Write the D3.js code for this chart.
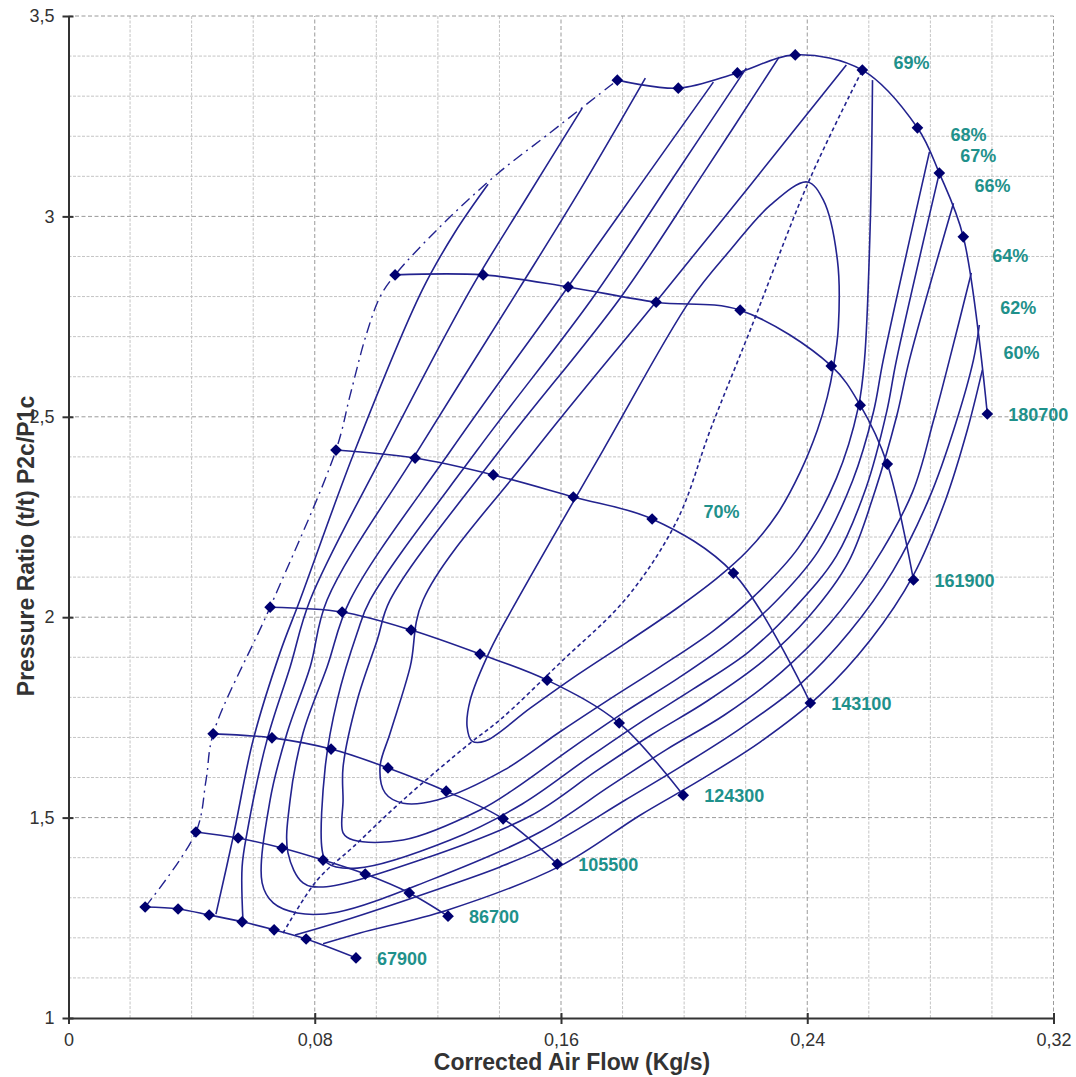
<!DOCTYPE html>
<html>
<head>
<meta charset="utf-8">
<script src="https://cdn.jsdelivr.net/npm/d3@7"></script>
<style>
body { margin: 0; background: #fff; }
text { font-family: Arial, "Liberation Sans", sans-serif; }
</style>
</head>
<body>
<svg id="chart" width="1076" height="1077"></svg>
<script>
// axis ticks and grid
const X_TICKS = [0, 0.08, 0.16, 0.24, 0.32];
const Y_TICKS = [1, 1.5, 2, 2.5, 3, 3.5];
const X_GRID = [0.02, 0.04, 0.06, 0.10, 0.12, 0.14, 0.18, 0.20, 0.22, 0.26, 0.28, 0.30];
const Y_GRID = [1.1, 1.2, 1.3, 1.4, 1.6, 1.7, 1.8, 1.9, 2.1, 2.2, 2.3, 2.4, 2.6, 2.7, 2.8, 2.9, 3.1, 3.2, 3.3, 3.4];

// speed lines [flow kg/s, pressure ratio]
const SPEEDS = ["67900", "86700", "105500", "124300", "143100", "161900", "180700"];
const N67900 = [[0.0249,1.277],[0.0356,1.272],[0.0457,1.257],[0.0564,1.240],[0.0668,1.220],[0.0772,1.197],[0.0934,1.150]];
const N86700 = [[0.0414,1.464],[0.0551,1.449],[0.0694,1.424],[0.0827,1.394],[0.0964,1.359],[0.1107,1.312],[0.1233,1.254]];
const N105500 = [[0.0470,1.709],[0.0661,1.699],[0.0853,1.671],[0.1038,1.624],[0.1227,1.566],[0.1412,1.497],[0.1588,1.384]];
const N124300 = [[0.0655,2.025],[0.0889,2.013],[0.1113,1.968],[0.1337,1.908],[0.1555,1.843],[0.1789,1.736],[0.1997,1.556]];
const N143100 = [[0.0869,2.417],[0.1126,2.397],[0.1380,2.355],[0.1640,2.300],[0.1896,2.245],[0.2160,2.110],[0.2410,1.786]];
const N161900 = [[0.1061,2.854],[0.1347,2.854],[0.1623,2.824],[0.1909,2.786],[0.2182,2.766],[0.2478,2.627],[0.2572,2.529],[0.2660,2.382],[0.2745,2.093]];
const N180700 = [[0.1783,3.340],[0.1981,3.320],[0.2173,3.358],[0.2361,3.403],[0.2579,3.365],[0.2758,3.221],[0.2829,3.108],[0.2907,2.949],[0.2985,2.507]];

// surge line and peak efficiency line
const SURGE = [[0.0249,1.277],[0.0414,1.464],[0.0447,1.594],[0.0470,1.709],[0.0655,2.025],[0.0869,2.417],[0.0915,2.554],[0.0967,2.704],[0.1012,2.799],[0.1061,2.854],[0.1207,2.974],[0.1393,3.106],[0.1555,3.203],[0.1783,3.340]];
const PEAK = [[0.0697,1.212],[0.0808,1.344],[0.0925,1.427],[0.1087,1.544],[0.1305,1.686],[0.1402,1.744],[0.1597,1.886],[0.1815,2.050],[0.1978,2.243],[0.2085,2.467],[0.2215,2.717],[0.2407,3.091],[0.2579,3.365]];

// efficiency contours
const E60_L = [[0.0479,1.259],[0.0535,1.452],[0.0600,1.694],[0.0687,1.911],[0.0752,2.043],[0.0931,2.417],[0.1149,2.816],[0.1256,2.961],[0.1363,3.080]];
const E60_R = [[0.0827,1.185],[0.0947,1.212],[0.1230,1.269],[0.1597,1.379],[0.1857,1.506],[0.2053,1.594],[0.2248,1.689],[0.2442,1.806],[0.2605,1.943],[0.2745,2.105],[0.2849,2.292],[0.2920,2.467],[0.2969,2.617]];
const E62_L = [[0.0567,1.240],[0.0564,1.377],[0.0580,1.462],[0.0645,1.694],[0.0720,1.876],[0.0785,2.043],[0.1029,2.417],[0.1305,2.816],[0.1484,3.041],[0.1669,3.270]];
const E62_R = [[0.0736,1.207],[0.0882,1.240],[0.1240,1.332],[0.1402,1.377],[0.1565,1.432],[0.1809,1.544],[0.1997,1.631],[0.2186,1.724],[0.2377,1.833],[0.2537,1.963],[0.2678,2.115],[0.2799,2.302],[0.2881,2.480],[0.2940,2.642],[0.2959,2.729]];
const E64 = [[0.1874,3.345],[0.1662,3.066],[0.1461,2.816],[0.1136,2.417],[0.0840,2.043],[0.0785,1.876],[0.0710,1.711],[0.0655,1.544],[0.0629,1.337],[0.0665,1.287],[0.0743,1.262],
             [0.0873,1.264],[0.1175,1.344],[0.1532,1.464],[0.1760,1.579],[0.1945,1.671],[0.2131,1.756],[0.2316,1.863],[0.2472,1.983],[0.2612,2.128],[0.2742,2.312],[0.2810,2.490],[0.2862,2.642],[0.2933,2.859]];
const E66 = [[0.2095,3.335],[0.1857,3.078],[0.1604,2.804],[0.1243,2.417],[0.0915,2.043],[0.0840,1.876],[0.0762,1.711],[0.0720,1.544],[0.0713,1.412],[0.0762,1.337],
             [0.0827,1.327],[0.1142,1.394],[0.1500,1.504],[0.1714,1.616],[0.1893,1.706],[0.2075,1.791],[0.2257,1.891],[0.2407,2.003],[0.2534,2.138],[0.2621,2.317],[0.2690,2.500],[0.2732,2.642],[0.2875,3.033]];
const E67 = [[0.2202,3.370],[0.1955,3.086],[0.1705,2.799],[0.1328,2.417],[0.0980,2.043],[0.0938,1.961],[0.0873,1.793],[0.0834,1.626],[0.0824,1.419],[0.0840,1.387],
             [0.0938,1.374],[0.1240,1.444],[0.1474,1.534],[0.1679,1.644],[0.1851,1.734],[0.2030,1.821],[0.2209,1.913],[0.2355,2.020],[0.2495,2.153],[0.2592,2.325],[0.2657,2.509],[0.2690,2.642],[0.2829,3.108]];
const E68 = [[0.2309,3.398],[0.2053,3.096],[0.1792,2.796],[0.1402,2.417],[0.1045,2.043],[0.1003,1.943],[0.0938,1.793],[0.0892,1.626],[0.0892,1.544],[0.0892,1.462],[0.0925,1.444],
             [0.1087,1.444],[0.1337,1.519],[0.1448,1.571],[0.1636,1.674],[0.1806,1.763],[0.1981,1.848],[0.2153,1.941],[0.2296,2.038],[0.2436,2.165],[0.2547,2.340],[0.2615,2.512],[0.2647,2.642],[0.2797,3.161]];
const E69 = [[0.2527,3.378],[0.2215,3.078],[0.1913,2.791],[0.1516,2.417],[0.1152,2.043],[0.1110,1.876],[0.1045,1.711],[0.1012,1.626],[0.1029,1.561],[0.1087,1.536],
             [0.1198,1.544],[0.1416,1.619],[0.1591,1.711],[0.1753,1.793],[0.1922,1.876],[0.2095,1.966],[0.2231,2.055],[0.2371,2.173],[0.2495,2.347],[0.2566,2.524],[0.2586,2.642],[0.2605,2.991],[0.2612,3.340]];
const E70 = [[0.1295,1.726],[0.1305,1.793],[0.1370,1.918],[0.1458,2.043],[0.1737,2.417],[0.2020,2.791],[0.2150,2.916],[0.2280,3.028],[0.2400,3.086],
             [0.2452,3.041],[0.2498,2.891],[0.2501,2.724],[0.2485,2.624],[0.2465,2.549],[0.2433,2.467],[0.2377,2.362],[0.2303,2.258],[0.2205,2.165],[0.2108,2.098],
             [0.1978,2.023],[0.1815,1.938],[0.1653,1.856],[0.1500,1.773],[0.1354,1.691],[0.1311,1.691]];
const EFF_LABELS = ["60%", "62%", "64%", "66%", "67%", "68%", "69%"];
const LABEL_70 = [0.2063, 2.248];

const LINE_COLOR = "#23238f";
const MARKER_COLOR = "#000070";
const LABEL_COLOR = "#1f918b";
const AXIS_COLOR = "#333";

const svg = d3.select("#chart");
const x = d3.scaleLinear().domain([0, 0.32]).range([68.5, 1053.5]);
const y = d3.scaleLinear().domain([1, 3.5]).range([1018, 16]);
const fmt = (d) => String(d).replace(".", ",");

svg.append("rect").attr("width", 1076).attr("height", 1077).attr("fill", "#fff");

// Grid:
const grid = svg.append("g");
grid.selectAll(".gx").data(X_GRID).enter().append("line")
    .attr("x1", (d) => x(d)).attr("x2", (d) => x(d))
    .attr("y1", y(1)).attr("y2", y(3.5))
    .attr("stroke", "#c4c4c4").attr("stroke-dasharray", "3,1.5");
grid.selectAll(".gy").data(Y_GRID).enter().append("line")
    .attr("x1", x(0)).attr("x2", x(0.32))
    .attr("y1", (d) => y(d)).attr("y2", (d) => y(d))
    .attr("stroke", "#c4c4c4").attr("stroke-dasharray", "3,1.5");
grid.selectAll(".mx").data(X_TICKS.slice(1)).enter().append("line")
    .attr("x1", (d) => x(d)).attr("x2", (d) => x(d))
    .attr("y1", y(1)).attr("y2", y(3.5))
    .attr("stroke", "#9a9a9a").attr("stroke-dasharray", "4,2.5");
grid.selectAll(".my").data(Y_TICKS.slice(1)).enter().append("line")
    .attr("x1", x(0)).attr("x2", x(0.32))
    .attr("y1", (d) => y(d)).attr("y2", (d) => y(d))
    .attr("stroke", "#9a9a9a").attr("stroke-dasharray", "4,2.5");

const line = d3.line().x((d) => x(d[0])).y((d) => y(d[1])).curve(d3.curveCatmullRom.alpha(0.5));
const closed = d3.line().x((d) => x(d[0])).y((d) => y(d[1])).curve(d3.curveCatmullRomClosed.alpha(0.5));

// Efficiency contours:
const contours = [E60_L, E60_R, E62_L, E62_R, E64, E66, E67, E68, E69];
svg.append("g").selectAll("path").data(contours).enter().append("path")
    .attr("d", line).attr("fill", "none")
    .attr("stroke", LINE_COLOR).attr("stroke-width", 1.6);
svg.append("path").attr("d", closed(E70)).attr("fill", "none")
    .attr("stroke", LINE_COLOR).attr("stroke-width", 1.6);

// Peak line and surge line:
svg.append("path").attr("d", line(PEAK)).attr("fill", "none")
    .attr("stroke", LINE_COLOR).attr("stroke-width", 1.6).attr("stroke-dasharray", "4,3");
svg.append("path").attr("d", line(SURGE)).attr("fill", "none")
    .attr("stroke", LINE_COLOR).attr("stroke-width", 1.4).attr("stroke-dasharray", "11,5,2,5");

// Speed lines:
const speedData = [N67900, N86700, N105500, N124300, N143100, N161900, N180700];
const sp = svg.append("g");
sp.selectAll("path").data(speedData).enter().append("path")
    .attr("d", line).attr("fill", "none")
    .attr("stroke", LINE_COLOR).attr("stroke-width", 1.6);
const diamond = d3.symbol(d3.symbolSquare, 68);
speedData.forEach((pts) => {
    sp.append("g").selectAll("path").data(pts).enter().append("path")
        .attr("d", diamond)
        .attr("transform", (d) => "translate(" + x(d[0]) + "," + y(d[1]) + ") rotate(45)")
        .attr("fill", MARKER_COLOR);
});

// Labels:
const labels = svg.append("g").attr("font-weight", "bold").attr("font-size", 18).attr("fill", LABEL_COLOR);
speedData.forEach((pts, i) => {
    const last = pts[pts.length - 1];
    labels.append("text").attr("x", x(last[0]) + 21).attr("y", y(last[1]) + 7).text(SPEEDS[i]);
});
const effEnds = [E60_R, E62_R, E64, E66, E67, E68, E69];
effEnds.forEach((pts, i) => {
    const last = pts[pts.length - 1];
    labels.append("text").attr("x", x(last[0]) + 21).attr("y", y(last[1]) - 11).text(EFF_LABELS[i]);
});
labels.append("text").attr("x", x(LABEL_70[0])).attr("y", y(LABEL_70[1])).text("70%");

// Axes:
const xAxis = d3.axisBottom(x).tickValues(X_TICKS).tickFormat(fmt).tickSizeInner(6).tickSizeOuter(0).tickPadding(9);
const yAxis = d3.axisLeft(y).tickValues(Y_TICKS).tickFormat(fmt).tickSizeInner(6).tickSizeOuter(0).tickPadding(8);
const gx = svg.append("g").attr("transform", "translate(0," + y(1) + ")").call(xAxis);
const gy = svg.append("g").attr("transform", "translate(" + x(0) + ",0)").call(yAxis);
gx.selectAll(".tick line").attr("y1", -5);
gy.selectAll(".tick line").attr("x1", 5);
[gx, gy].forEach((g) => {
    g.select(".domain").attr("stroke", AXIS_COLOR).attr("stroke-width", 2);
    g.selectAll(".tick line").attr("stroke", AXIS_COLOR).attr("stroke-width", 2);
    g.selectAll(".tick text").attr("font-size", 18).attr("fill", AXIS_COLOR)
        .attr("font-family", "Arial, 'Liberation Sans', sans-serif");
});

svg.append("text").attr("x", 572).attr("y", 1070).attr("text-anchor", "middle")
    .attr("font-size", 23).attr("font-weight", "bold").attr("fill", AXIS_COLOR)
    .text("Corrected Air Flow (Kg/s)");
svg.append("text").attr("transform", "translate(34,546) rotate(-90)").attr("text-anchor", "middle")
    .attr("font-size", 23).attr("font-weight", "bold").attr("fill", AXIS_COLOR)
    .text("Pressure Ratio (t/t) P2c/P1c");
</script>
</body>
</html>
